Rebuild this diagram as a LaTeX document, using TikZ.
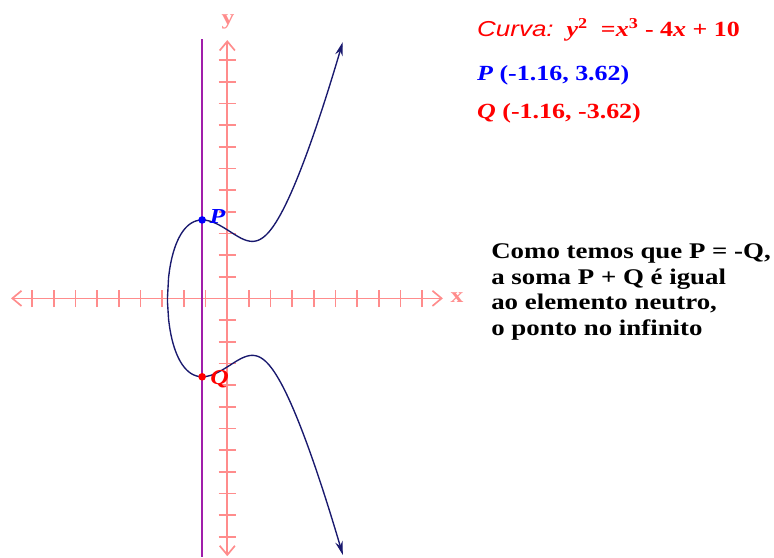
\documentclass[tikz,border=0pt]{standalone}
\usepackage{fontspec}
\setmainfont[FakeStretch=1.2]{Liberation Serif}
\newfontfamily\curvafont[FakeStretch=1.2]{Liberation Sans}
\usetikzlibrary{arrows.meta}
\definecolor{axispink}{RGB}{255,140,140}
\definecolor{lineviolet}{RGB}{160,30,170}
\definecolor{curvenavy}{RGB}{25,25,110}
\definecolor{ptblue}{RGB}{0,0,255}
\definecolor{ptred}{RGB}{255,0,0}

\begin{document}
\begin{tikzpicture}[x=0.5cm,y=0.5cm,
  axis/.style={axispink,line width=1.1pt,{Straight Barb[length=6pt,width=10pt]}-{Straight Barb[length=6pt,width=10pt]}},
  tickmark/.style={axispink,line width=1.1pt},
  lbl/.style={inner sep=0pt,font=\fontsize{14}{16}\selectfont\bfseries},
  dot/.style={circle,inner sep=0pt,minimum size=5pt},
  info/.style={anchor=base west,inner sep=0pt,font=\fontsize{14.2}{16}\selectfont\bfseries}]
\useasboundingbox (-10.49,-11.94) rectangle (25.23,13.77);

% eixos
\coordinate (xmin) at (-9.98,0);
\coordinate (xmax) at (9.95,0);
\coordinate (ymin) at (0,-11.9);
\coordinate (ymax) at (0,11.92);
\draw[axis] (xmin) -- (xmax);
\draw[axis] (ymin) -- (ymax);
\foreach \i in {-9,...,-1,1,2,...,9}
  \draw[tickmark] (\i,-0.4) -- (\i,0.4);
\foreach \j in {-11,...,-1,1,2,...,11}
  \draw[tickmark] (-0.4,\j) -- (0.4,\j);
\node[lbl,text=axispink] (xlab) at (10.6,0.05) {x};
\node[lbl,text=axispink] (ylab) at (0.03,12.75) {y};

% reta vertical x = -1.16
\coordinate (vtop) at (-1.16,11.95);
\coordinate (vbot) at (-1.16,-11.94);
\draw[lineviolet,line width=1.3pt] (vtop) -- (vbot);

% curva
\draw[curvenavy,line width=0.9pt,{Stealth[length=9pt,width=5pt]}-{Stealth[length=9pt,width=5pt]}]
  plot[domain=5.33:-2.7608,samples=160] (\x,{-sqrt(max(\x*\x*\x-4*\x+10,0))})
  -- plot[domain=-2.7608:5.33,samples=160] (\x,{sqrt(max(\x*\x*\x-4*\x+10,0))});

% pontos
\node[dot,fill=ptblue] (P) at (-1.16,3.62) {};
\node[dot,fill=ptred] (Q) at (-1.16,-3.62) {};
\node[lbl,text=ptblue,font=\fontsize{14}{16}\selectfont\bfseries\itshape] (Plab) at (-0.45,3.8) {P};
\node[lbl,text=ptred,font=\fontsize{14}{16}\selectfont\bfseries\itshape] (Qlab) at (-0.35,-3.73) {Q};

% textos
\node[info,text=ptred] (curva) at (11.52,12.07)
  {{\curvafont\mdseries\itshape Curva:}\ \ \itshape y\textsuperscript{\upshape 2}\ \ \upshape =\itshape x\upshape\textsuperscript{3} - 4\itshape x\upshape{} + 10};
\node[info,text=ptblue] (pcoord) at (11.52,10.07) {{\itshape P} (-1.16, 3.62)};
\node[info,text=ptred] (qcoord) at (11.52,8.31) {{\itshape Q} (-1.16, -3.62)};
\node[info,align=left,font=\fontsize{14.7}{16.8}\selectfont\bfseries] (nota) at (12.17,-1.7)
  {Como temos que P = -Q,\\a soma P + Q é igual\\ao elemento neutro,\\o ponto no infinito};
\end{tikzpicture}
\end{document}
